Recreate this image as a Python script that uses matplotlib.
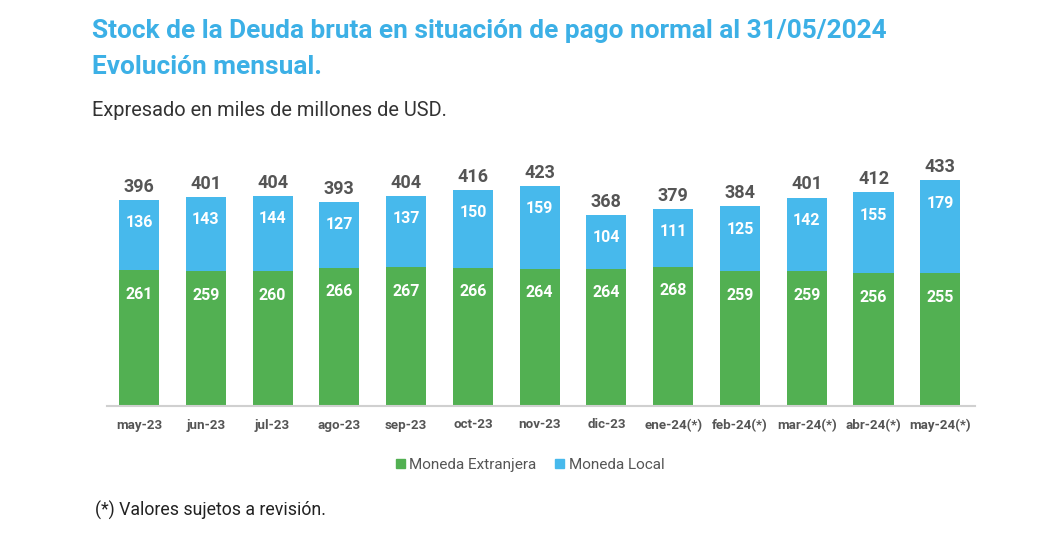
import numpy as np
import matplotlib
matplotlib.use('Agg')
import matplotlib.pyplot as plt
from matplotlib.patches import Patch

plt.rcParams['font.family'] = ['Roboto', 'DejaVu Sans']

meses = ['may-23', 'jun-23', 'jul-23', 'ago-23', 'sep-23', 'oct-23', 'nov-23',
         'dic-23', 'ene-24(*)', 'feb-24(*)', 'mar-24(*)', 'abr-24(*)', 'may-24(*)']
moneda_ext = [261, 259, 260, 266, 267, 266, 264, 264, 268, 259, 259, 256, 255]
moneda_loc = [136, 143, 144, 127, 137, 150, 159, 104, 111, 125, 142, 155, 179]
total = [396, 401, 404, 393, 404, 416, 423, 368, 379, 384, 401, 412, 433]

verde = '#52b052'
celeste = '#47b9ec'
titulo_col = '#3cb0e6'
gris = '#555555'

W, H = 1064, 536
fig = plt.figure(figsize=(W/100, H/100), dpi=100)

# axes: baseline at y=406 px, 433 -> y=181 px
scale = 225/433.0
ymax = 450
ax_h = ymax*scale
ax = fig.add_axes([107/W, (H-406)/H, 868/W, ax_h/H])

x = np.arange(len(meses))
ax.bar(x, moneda_ext, width=0.6, color=verde, label='Moneda Extranjera')
ax.bar(x, moneda_loc, width=0.6, bottom=moneda_ext, color=celeste, label='Moneda Local')

for i in range(len(x)):
    ax.annotate(str(moneda_ext[i]), (x[i], moneda_ext[i]), xytext=(0, -12),
                textcoords='offset points', ha='center', va='top',
                color='white', fontsize=11.5, fontweight='bold')
    ax.annotate(str(moneda_loc[i]), (x[i], moneda_ext[i]+moneda_loc[i]), xytext=(0, -11),
                textcoords='offset points', ha='center', va='top',
                color='white', fontsize=11.5, fontweight='bold')
    ax.annotate(str(total[i]), (x[i], moneda_ext[i]+moneda_loc[i]), xytext=(0, 3),
                textcoords='offset points', ha='center', va='bottom',
                color=gris, fontsize=13, fontweight='bold')

ax.set_xlim(-0.48, 12.52)
ax.set_ylim(0, ymax)
ax.set_xticks(x)
ax.set_xticklabels(meses, fontsize=9.6, color=gris, fontweight='bold')
ax.tick_params(axis='x', length=0, pad=9)
ax.set_yticks([])
for s in ['top', 'right', 'left']:
    ax.spines[s].set_visible(False)
ax.spines['bottom'].set_color('#d0d0d0')
ax.spines['bottom'].set_linewidth(1.5)

handles = [Patch(color=verde, label='Moneda Extranjera'),
           Patch(color=celeste, label='Moneda Local')]
fig.legend(handles=handles, loc='center', bbox_to_anchor=(530/W, 1-465/H), ncol=2,
           frameon=False, fontsize=11, handlelength=0.6, handleheight=0.6,
           handletextpad=0.3, columnspacing=1.2, labelcolor=gris)

fig.text(92/W, 1-31/H, 'Stock de la Deuda bruta en situación de pago normal al 31/05/2024',
         color=titulo_col, fontsize=18.9, fontweight='bold', va='center', ha='left')
fig.text(92/W, 1-67/H, 'Evolución mensual.',
         color=titulo_col, fontsize=18.9, fontweight='bold', va='center', ha='left')
fig.text(92/W, 1-110/H, 'Expresado en miles de millones de USD.',
         color='#333333', fontsize=14.4, va='center', ha='left')
fig.text(95/W, 1-510/H, '(*) Valores sujetos a revisión.',
         color='#222222', fontsize=12.8, va='center', ha='left')

fig.savefig('out.png', dpi=100)
